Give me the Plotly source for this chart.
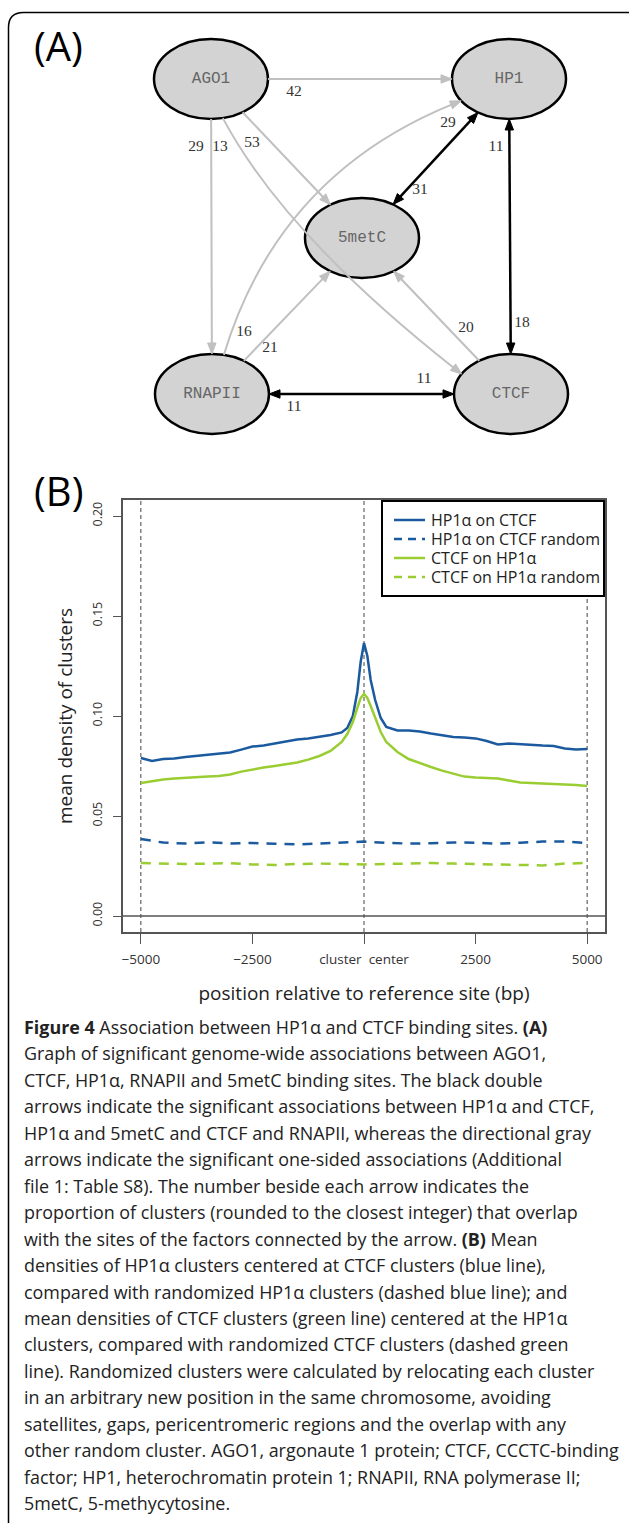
import math
import plotly.graph_objects as go

W, H = 629, 1523

# ---------------- Panel B data ----------------
pos_bp = [-5000, -4750, -4500, -4250, -4000, -3750, -3500, -3250, -3000, -2750,
          -2500, -2250, -2000, -1750, -1500, -1250, -1000, -750, -500, -375,
          -250, -150, -75, 0, 75, 150, 250, 375, 500, 750,
          1000, 1250, 1500, 1750, 2000, 2250, 2500, 2750, 3000, 3250,
          3500, 3750, 4000, 4250, 4500, 4750, 5000]
hp1_on_ctcf = [0.0790, 0.0775, 0.0785, 0.0788, 0.0795, 0.0800, 0.0808, 0.0812, 0.0818, 0.0832,
               0.0847, 0.0852, 0.0862, 0.0875, 0.0882, 0.0888, 0.0895, 0.0905, 0.0918, 0.0940,
               0.1000, 0.1120, 0.1270, 0.1365, 0.1300, 0.1180, 0.1080, 0.0990, 0.0945, 0.0928,
               0.0928, 0.0922, 0.0912, 0.0903, 0.0895, 0.0892, 0.0888, 0.0875, 0.0858, 0.0862,
               0.0858, 0.0855, 0.0852, 0.0850, 0.0838, 0.0833, 0.0835]
ctcf_on_hp1 = [0.0665, 0.0675, 0.0683, 0.0688, 0.0690, 0.0693, 0.0697, 0.0700, 0.0708, 0.0722,
               0.0733, 0.0742, 0.0750, 0.0758, 0.0768, 0.0782, 0.0800, 0.0825, 0.0870, 0.0910,
               0.0970, 0.1040, 0.1090, 0.1110, 0.1090, 0.1050, 0.0990, 0.0920, 0.0870, 0.0820,
               0.0785, 0.0763, 0.0745, 0.0727, 0.0712, 0.0697, 0.0692, 0.0690, 0.0688, 0.0678,
               0.0668, 0.0665, 0.0663, 0.0660, 0.0657, 0.0655, 0.0650]
rand_bp = [-5000, -4500, -4000, -3500, -3000, -2500, -2000, -1500, -1000, -500, 0,
           500, 1000, 1500, 2000, 2500, 3000, 3500, 4000, 4500, 5000]
hp1_random = [0.0385, 0.0367, 0.0362, 0.0368, 0.0363, 0.0365, 0.0361, 0.0358, 0.0362, 0.0368, 0.0372,
              0.0366, 0.0362, 0.0364, 0.0368, 0.0366, 0.0362, 0.0366, 0.0372, 0.0372, 0.0365]
ctcf_random = [0.0265, 0.0262, 0.0260, 0.0262, 0.0264, 0.0258, 0.0255, 0.0260, 0.0262, 0.0260, 0.0258,
               0.0260, 0.0263, 0.0265, 0.0262, 0.0260, 0.0260, 0.0258, 0.0253, 0.0262, 0.0265]
series_names = ["HP1α on CTCF", "HP1α on CTCF random", "CTCF on HP1α", "CTCF on HP1α random"]
x_tickvals = [-5000, -2500, 0, 2500, 5000]
x_ticktext = ["\u22125000", "\u22122500", "cluster  center", "2500", "5000"]
y_tickvals = [0.0, 0.05, 0.10, 0.15, 0.20]
y_ticktext = ["0.00", "0.05", "0.10", "0.15", "0.20"]
ref_lines_bp = [-5000, 0, 5000]

# ---------------- Panel A data ----------------
node_names = ["AGO1", "HP1", "5metC", "RNAPII", "CTCF"]
edge_src = ["AGO1", "AGO1", "AGO1", "AGO1", "RNAPII", "RNAPII", "CTCF", "HP1", "HP1", "RNAPII"]
edge_dst = ["HP1", "RNAPII", "CTCF", "5metC", "HP1", "5metC", "5metC", "5metC", "CTCF", "CTCF"]
edge_double = [False, False, False, False, False, False, False, True, True, True]
edge_tail_value = [42, 29, 13, 53, 16, 21, 20, 29, 11, 11]
edge_head_value = [None, None, None, None, None, None, None, 31, 18, 11]

caption_lines = [
    "<b>Figure 4</b> Association between HP1α and CTCF binding sites. <b>(A)</b>",
    "Graph of significant genome-wide associations between AGO1,",
    "CTCF, HP1α, RNAPII and 5metC binding sites. The black double",
    "arrows indicate the significant associations between HP1α and CTCF,",
    "HP1α and 5metC and CTCF and RNAPII, whereas the directional gray",
    "arrows indicate the significant one-sided associations (Additional",
    "file 1: Table S8). The number beside each arrow indicates the",
    "proportion of clusters (rounded to the closest integer) that overlap",
    "with the sites of the factors connected by the arrow. <b>(B)</b> Mean",
    "densities of HP1α clusters centered at CTCF clusters (blue line),",
    "compared with randomized HP1α clusters (dashed blue line); and",
    "mean densities of CTCF clusters (green line) centered at the HP1α",
    "clusters, compared with randomized CTCF clusters (dashed green",
    "line). Randomized clusters were calculated by relocating each cluster",
    "in an arbitrary new position in the same chromosome, avoiding",
    "satellites, gaps, pericentromeric regions and the overlap with any",
    "other random cluster. AGO1, argonaute 1 protein; CTCF, CCCTC-binding",
    "factor; HP1, heterochromatin protein 1; RNAPII, RNA polymerase II;",
    "5metC, 5-methycytosine.",
]

# ---------------- layout (positions / styles) ----------------
node_xy = {"AGO1": (211, 79), "HP1": (509, 79), "5metC": (362, 238),
           "RNAPII": (212, 394), "CTCF": (511, 394)}
RX, RY = 57, 40
# curved edges: (start angle on src, control point, end angle on dst)
curves = {("AGO1", "CTCF"): (78, (285, 235), 210),
          ("RNAPII", "HP1"): (-78, (278, 175), 147)}
tail_label_xy = [(294, 92), (196, 147), (220, 147), (252, 143), (244, 332),
                 (270, 348), (466, 328), (448, 123), (496, 147), (294, 407)]
head_label_xy = [None, None, None, None, None, None, None, (420, 190), (522, 323), (424, 379)]

BLUE = "#1b5a9e"
GREEN = "#9acd32"
GRAY_EDGE = "#c0c0c0"
series_colors = [BLUE, BLUE, GREEN, GREEN]
series_dash = ["solid", "10px,8px", "solid", "10px,8px"]

B_LEFT, B_RIGHT, B_TOP, B_BOTTOM = 123, 605, 500, 932
LEG_LEFT, LEG_TOP, LEG_BOTTOM = 382, 501, 596
LEG_ROW0, LEG_ROW_STEP = 520, 19


def ell_toward(name, tx, ty):
    cx, cy = node_xy[name]
    dx, dy = tx - cx, ty - cy
    t = 1.0 / math.sqrt((dx / RX) ** 2 + (dy / RY) ** 2)
    return cx + t * dx, cy + t * dy


def ell_angle(name, deg):
    cx, cy = node_xy[name]
    a = math.radians(deg)
    return cx + RX * math.cos(a), cy + RY * math.sin(a)


shapes = []


def arrow_shape(tip, d, color):
    L, w = 11.0, 4.2
    bx, by = tip[0] - L * d[0], tip[1] - L * d[1]
    px, py = -d[1], d[0]
    p = "M{:.2f},{:.2f} L{:.2f},{:.2f} L{:.2f},{:.2f} Z".format(
        tip[0], tip[1], bx + w * px, by + w * py, bx - w * px, by - w * py)
    shapes.append(dict(type="path", path=p, xref="x2", yref="y2", fillcolor=color,
                       line=dict(color=color, width=1), layer="below"))


def unit(a, b):
    dx, dy = b[0] - a[0], b[1] - a[1]
    n = math.hypot(dx, dy)
    return dx / n, dy / n


# node ellipses
for n in node_names:
    cx, cy = node_xy[n]
    shapes.append(dict(type="circle", xref="x2", yref="y2", x0=cx - RX, x1=cx + RX,
                       y0=cy - RY, y1=cy + RY, fillcolor="#d3d3d3",
                       line=dict(color="black", width=2.5), layer="below"))

for i in range(len(edge_src)):
    s, t = edge_src[i], edge_dst[i]
    color = "black" if edge_double[i] else GRAY_EDGE
    lw = 2.5 if edge_double[i] else 2.0
    if (s, t) in curves:
        a0, ctrl, a1 = curves[(s, t)]
        p0 = ell_angle(s, a0)
        p2 = ell_angle(t, a1)
        d = unit(ctrl, p2)
        end = (p2[0] - 9 * d[0], p2[1] - 9 * d[1])
        shapes.append(dict(type="path", xref="x2", yref="y2",
                           path="M{:.2f},{:.2f} Q{:.2f},{:.2f} {:.2f},{:.2f}".format(
                               p0[0], p0[1], ctrl[0], ctrl[1], end[0], end[1]),
                           line=dict(color=color, width=lw), layer="below"))
        arrow_shape(p2, d, color)
    else:
        cs, ct = node_xy[s], node_xy[t]
        p0 = ell_toward(s, *ct)
        p1 = ell_toward(t, *cs)
        d = unit(p0, p1)
        a = p0
        if edge_double[i]:
            a = (p0[0] + 9 * d[0], p0[1] + 9 * d[1])
            arrow_shape(p0, (-d[0], -d[1]), color)
        b = (p1[0] - 9 * d[0], p1[1] - 9 * d[1])
        shapes.append(dict(type="line", xref="x2", yref="y2", x0=a[0], y0=a[1],
                           x1=b[0], y1=b[1], line=dict(color=color, width=lw),
                           layer="below"))
        arrow_shape(p1, d, color)

# outer frame
R = 15
frame_path = "M8.5,{H} L8.5,{a} Q8.5,12.5 {b},12.5 L{W},12.5".format(H=H, a=12.5 + R, b=8.5 + R, W=W + 2)
shapes.append(dict(type="path", xref="x2", yref="y2", path=frame_path,
                   line=dict(color="black", width=1.5), layer="below"))

# panel B reference lines
for xb in ref_lines_bp:
    shapes.append(dict(type="line", xref="x", yref="y domain", x0=xb, x1=xb, y0=0, y1=1,
                       line=dict(color="#444", width=1, dash="4px,3px"), layer="below"))
shapes.append(dict(type="line", xref="x domain", yref="y", x0=0, x1=1, y0=0, y1=0,
                   line=dict(color="#555", width=1.5), layer="below"))

# legend box (drawn above the plot lines)
shapes.append(dict(type="rect", xref="x2", yref="y2", x0=LEG_LEFT, x1=B_RIGHT - 1,
                   y0=LEG_TOP, y1=LEG_BOTTOM, fillcolor="white",
                   line=dict(color="black", width=2), layer="above"))
annotations = []
for k, nm in enumerate(series_names):
    yy = LEG_ROW0 + k * LEG_ROW_STEP
    shapes.append(dict(type="line", xref="x2", yref="y2", x0=394, x1=425, y0=yy, y1=yy,
                       line=dict(color=series_colors[k], width=2.5,
                                 dash=series_dash[k] if k % 2 == 0 else "8px,6px"),
                       layer="above"))
    annotations.append(dict(x=429, y=yy, xref="x2", yref="y2", text=nm, showarrow=False,
                            xanchor="left", yanchor="middle",
                            font=dict(family="Open Sans", size=16, color="#222")))

fig = go.Figure()
series_x = [pos_bp, rand_bp, pos_bp, rand_bp]
series_y = [hp1_on_ctcf, hp1_random, ctcf_on_hp1, ctcf_random]
for k in range(4):
    fig.add_trace(go.Scatter(x=series_x[k], y=series_y[k], mode="lines", name=series_names[k],
                             line=dict(color=series_colors[k], width=2.5, dash=series_dash[k]),
                             showlegend=False))

# node labels
fig.add_trace(go.Scatter(x=[node_xy[n][0] for n in node_names], y=[node_xy[n][1] for n in node_names],
                         text=node_names, mode="text", xaxis="x2", yaxis="y2", showlegend=False,
                         hoverinfo="skip",
                         textfont=dict(family="Liberation Mono", size=16, color="#666")))
# edge labels
lx, ly, lt = [], [], []
for i in range(len(edge_src)):
    lx.append(tail_label_xy[i][0]); ly.append(tail_label_xy[i][1]); lt.append(str(edge_tail_value[i]))
    if edge_head_value[i] is not None:
        lx.append(head_label_xy[i][0]); ly.append(head_label_xy[i][1]); lt.append(str(edge_head_value[i]))
fig.add_trace(go.Scatter(x=lx, y=ly, text=lt, mode="text", xaxis="x2", yaxis="y2", showlegend=False,
                         hoverinfo="skip",
                         textfont=dict(family="Liberation Serif", size=15.5, color="#333")))

annotations += [
    dict(x=58, y=45, xref="x2", yref="y2", text="(A)", showarrow=False,
         font=dict(family="Open Sans", size=40, color="black")),
    dict(x=58, y=490, xref="x2", yref="y2", text="(B)", showarrow=False,
         font=dict(family="Open Sans", size=40, color="black")),
]
for i, line in enumerate(caption_lines):
    annotations.append(dict(x=22, y=1027 + i * 26.45, xref="x2", yref="y2", text=line,
                            showarrow=False, xanchor="left", yanchor="middle",
                            font=dict(family="Open Sans", size=17.9, color="#222")))

fig.update_layout(
    width=W, height=H, margin=dict(l=0, r=0, t=0, b=0),
    paper_bgcolor="white", plot_bgcolor="rgba(0,0,0,0)",
    shapes=shapes, annotations=annotations,
    showlegend=False,
    xaxis=dict(domain=[B_LEFT / W, B_RIGHT / W], range=[-5400, 5400], anchor="y",
               showline=True, mirror=True, linecolor="#555", linewidth=1.5,
               ticks="outside", ticklen=10, tickwidth=1.2, tickcolor="#555",
               tickvals=x_tickvals, ticktext=x_ticktext, showgrid=False, zeroline=False,
               ticklabelstandoff=4,
               tickfont=dict(family="Open Sans", size=13.5, color="#333"),
               title=dict(text="position relative to reference site (bp)", standoff=20,
                          font=dict(family="Open Sans", size=19, color="#222")),
               automargin=False),
    yaxis=dict(domain=[1 - B_BOTTOM / H, 1 - B_TOP / H], range=[-0.008, 0.208], anchor="x",
               showline=True, mirror=True, linecolor="#555", linewidth=1.5,
               ticks="outside", ticklen=8, tickwidth=1.2, tickcolor="#555",
               tickvals=y_tickvals, ticktext=y_ticktext, tickangle=-90,
               showgrid=False, zeroline=False, ticklabelstandoff=6,
               tickfont=dict(family="Open Sans", size=12.5, color="#333"),
               title=dict(text="mean density of clusters", standoff=12,
                          font=dict(family="Open Sans", size=19, color="#222")),
               automargin=False),
    xaxis2=dict(domain=[0, 1], range=[0, W], visible=False, anchor="y2", fixedrange=True),
    yaxis2=dict(domain=[0, 1], range=[H, 0], visible=False, anchor="x2", fixedrange=True),
)

fig.write_html("out.html")
